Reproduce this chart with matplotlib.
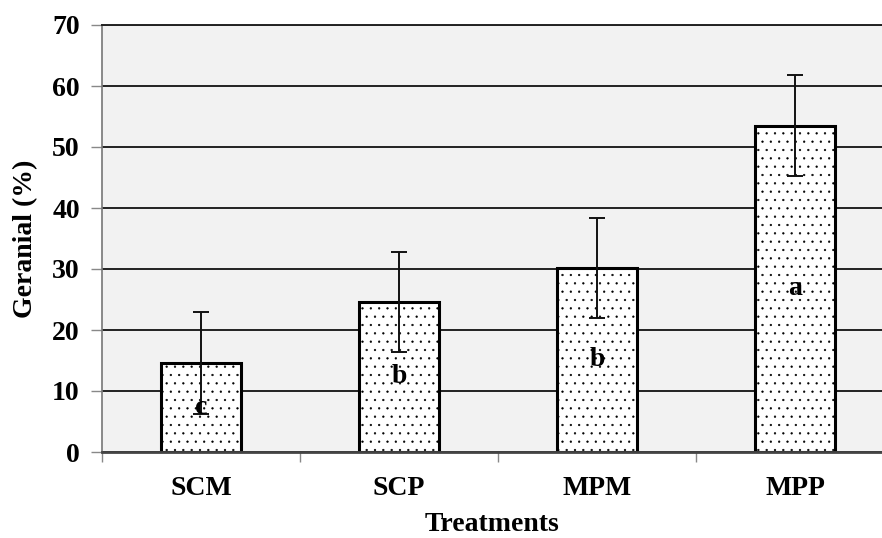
import matplotlib
matplotlib.use("Agg")
import matplotlib.pyplot as plt
import numpy as np

matplotlib.rcParams['font.family'] = 'Liberation Serif'
matplotlib.rcParams['font.weight'] = 'bold'
matplotlib.rcParams['hatch.color'] = '#555555'
matplotlib.rcParams['hatch.linewidth'] = 0.4

# data
treatments = ["SCM", "SCP", "MPM", "MPP"]
geranial   = [14.6, 24.6, 30.2, 53.5]
errors     = [8.4, 8.2, 8.2, 8.3]
letters    = ["c", "b", "b", "a"]
yticks     = [0, 10, 20, 30, 40, 50, 60, 70]


def main():
    fig = plt.figure(figsize=(8.82, 5.38), dpi=100)
    ax = fig.add_axes([102 / 882, 1 - 452 / 538, 780 / 882, 427 / 538])
    ax.set_facecolor('#f2f2f2')

    x = np.arange(len(treatments))

    """
    Grid
    """
    ax.set_axisbelow(True)
    ax.yaxis.grid(True, color='#222222', linewidth=1.4)

    """
    Bars
    """
    ax.bar(x, geranial, width=0.40, color='white', edgecolor='black',
           linewidth=2.2, hatch='..', zorder=2)
    ax.errorbar(x, geranial, yerr=errors, fmt='none', ecolor='#111111',
                elinewidth=1.4, capsize=5.5, capthick=1.4, zorder=3)

    for xi, v, lt in zip(x, geranial, letters):
        ax.text(xi, v / 2, lt, ha='center', va='center', fontsize=20,
                fontweight='bold', zorder=4)

    """
    Ticks & range
    """
    ax.set_yticks(yticks)
    ax.set_yticklabels([str(t) for t in yticks], fontsize=20)
    ax.tick_params(axis='y', length=8, width=1, color='#888888', pad=8)

    ax.set_xticks(x)
    ax.set_xticklabels(treatments, fontsize=20)
    ax.tick_params(axis='x', length=0, pad=17)
    ax.set_xticks(np.arange(-0.5, len(treatments) - 0.5, 1.0), minor=True)
    ax.tick_params(axis='x', which='minor', length=7, width=1, color='#888888')

    ax.set_ylim(0, 70)
    ax.set_xlim(-0.5, 780 / 198 - 0.5)

    ax.spines['left'].set_color('#777777')
    ax.spines['left'].set_linewidth(1.2)
    ax.spines['bottom'].set_color('#444444')
    ax.spines['bottom'].set_linewidth(2.0)
    ax.spines['top'].set_color('#222222')
    ax.spines['top'].set_linewidth(1.4)
    ax.spines['right'].set_visible(False)

    ax.set_xlabel('Treatments', fontsize=20, fontweight='bold', labelpad=8)
    ax.set_ylabel('Geranial (%)', fontsize=20, fontweight='bold', labelpad=10)

    fig.savefig('out.png', dpi=100)
    plt.close(fig)


if __name__ == '__main__':
    main()
